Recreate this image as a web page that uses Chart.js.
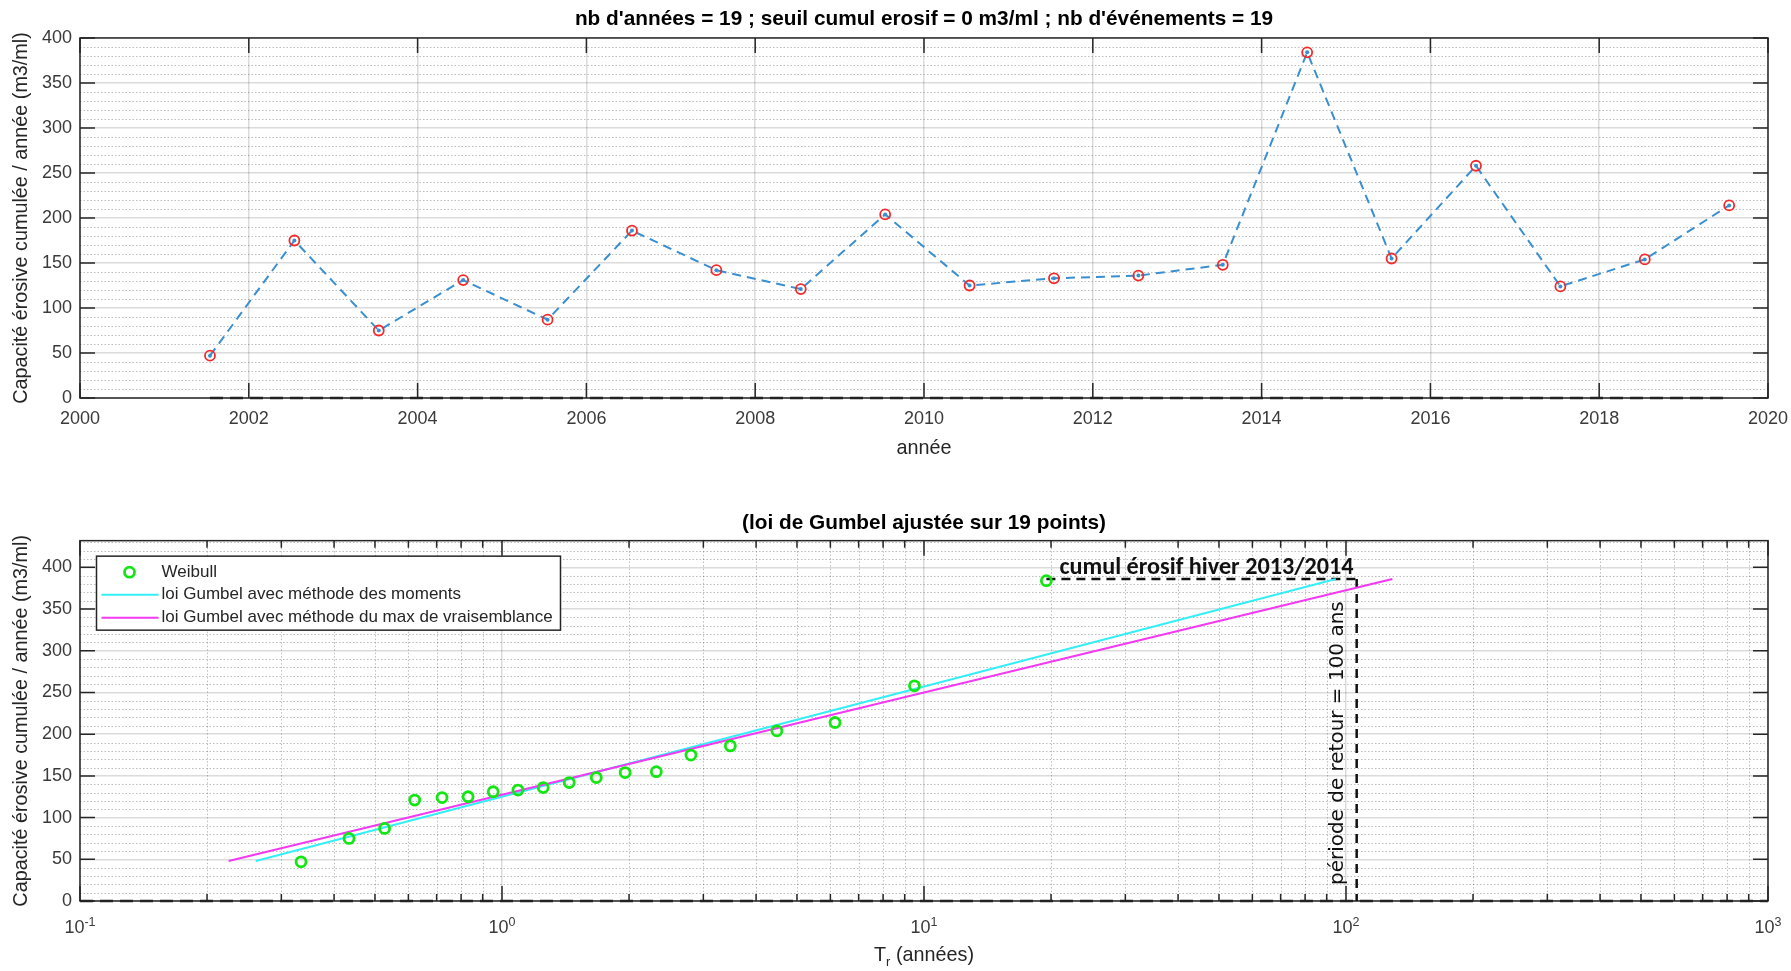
<!DOCTYPE html>
<html>
<head>
<meta charset="utf-8">
<title>Capacité érosive cumulée</title>
<script src="https://cdn.jsdelivr.net/npm/chart.js@4.4.1/dist/chart.umd.min.js"></script>
<style>
  html, body { margin: 0; padding: 0; background: #fff; overflow: hidden; }
  #page { position: relative; width: 1791px; height: 971px; }
  .panel { position: absolute; left: 0; width: 1791px; }
</style>
</head>
<body>
<div id="page">
  <div class="panel" style="top:0;height:480px"><canvas id="chartAnnees"></canvas></div>
  <div class="panel" style="top:480px;height:491px"><canvas id="chartGumbel"></canvas></div>
</div>
<script>
// ===== DATA =====

// haut : cumul érosif par année
const anneesX = [2001.54, 2002.54, 2003.54, 2004.54, 2005.54, 2006.54, 2007.54, 2008.54, 2009.54, 2010.54,
                 2011.54, 2012.54, 2013.54, 2014.54, 2015.54, 2016.54, 2017.54, 2018.54, 2019.54];
const cumulAnnuel = [47, 175, 75, 131, 87, 186, 142, 121, 204, 125, 133, 136, 148, 384, 155, 258, 124, 154, 214];
const seuilCumul = 0;
const anneeTicks = [2000, 2002, 2004, 2006, 2008, 2010, 2012, 2014, 2016, 2018, 2020];
const valeurTicks = [0, 50, 100, 150, 200, 250, 300, 350, 400];

// bas : loi de Gumbel
const weibullTr = [0.334, 0.434, 0.527, 0.621, 0.721, 0.831, 0.953, 1.091, 1.252, 1.443,
                   1.673, 1.958, 2.321, 2.804, 3.476, 4.481, 6.153, 9.491, 19.496];
const weibullCumul = [47, 75, 87, 121, 124, 125, 131, 133, 136, 142, 148, 154, 155, 175, 186, 204, 214, 258, 384];
const momentsTr = [0.261, 94.6];
const momentsCumul = [48, 386];
const maxVraisTr = [0.225, 128.8];
const maxVraisCumul = [48, 386];
const hiverTr = [19.5, 106];
const hiverCumul = 386;
const retourTr = 106;
const trTicks = [0.1, 1, 10, 100, 1000];
const trExposants = ['-1', '0', '1', '2', '3'];

// ===== STYLE =====
const FONT = '"Liberation Sans", Arial, Helvetica, sans-serif';
const AXIS_COLOR = '#262626';
const TEXT_COLOR = '#3a3a3a';
const GRID_MAJOR = 'rgba(0,0,0,0.14)';
const GRID_MINOR = 'rgba(0,0,0,0.26)';
const BLUE = '#3a8fd0';
const Y_LABEL = 'Capacité érosive cumulée / année (m3/ml)';

Chart.defaults.font.family = FONT;
Chart.defaults.animation = false;

const pts = (xs, ys) => xs.map((x, i) => ({ x, y: ys[i] }));

// minor grid positions
const yMinor = [];
for (let v = 10; v < 440; v += 10) if (v % 50) yMinor.push(v);
const trMinor = [];
[0.1, 1, 10, 100].forEach(d => { for (let k = 2; k <= 9; k++) trMinor.push(d * k); });

// MATLAB-like box, inward ticks, dotted minor grid
const matlabAxes = {
  id: 'matlabAxes',
  beforeDatasetsDraw(chart, args, opts) {
    const { ctx, chartArea: a, scales: { x, y } } = chart;
    const L = a.left, R = a.right, T = a.top, B = a.bottom;
    ctx.save();
    ctx.strokeStyle = GRID_MINOR;
    ctx.lineWidth = 1;
    ctx.setLineDash([1.5, 2]);
    ctx.beginPath();
    (opts.yMinor || []).forEach(v => {
      if (v > y.max) return;
      const p = Math.round(y.getPixelForValue(v)) + 0.5;
      ctx.moveTo(L, p); ctx.lineTo(R, p);
    });
    (opts.xMinor || []).forEach(v => {
      const p = Math.round(x.getPixelForValue(v)) + 0.5;
      ctx.moveTo(p, T); ctx.lineTo(p, B);
    });
    ctx.stroke();
    ctx.setLineDash([]);

    ctx.strokeStyle = AXIS_COLOR;
    ctx.lineWidth = 1.5;
    ctx.strokeRect(L, T, R - L, B - T);
    ctx.beginPath();
    x.ticks.forEach(t => {
      const p = x.getPixelForValue(t.value);
      ctx.moveTo(p, B); ctx.lineTo(p, B - 15);
      ctx.moveTo(p, T); ctx.lineTo(p, T + 15);
    });
    y.ticks.forEach(t => {
      const p = y.getPixelForValue(t.value);
      ctx.moveTo(L, p); ctx.lineTo(L + 15, p);
      ctx.moveTo(R, p); ctx.lineTo(R - 15, p);
    });
    if (opts.xMinorTicks) {
      opts.xMinor.forEach(v => {
        const p = x.getPixelForValue(v);
        ctx.moveTo(p, B); ctx.lineTo(p, B - 7);
        ctx.moveTo(p, T); ctx.lineTo(p, T + 7);
      });
    }
    ctx.stroke();
    ctx.restore();
  }
};

function yScale(max) {
  return {
    type: 'linear', min: 0, max,
    afterBuildTicks: s => { s.ticks = valeurTicks.map(v => ({ value: v })); },
    afterFit: s => { s.width = 80; s.paddingTop = 0; s.paddingBottom = 0; },
    grid: { color: GRID_MAJOR, lineWidth: 1.5, drawTicks: false },
    border: { display: false },
    ticks: { color: TEXT_COLOR, font: { size: 18 }, padding: 8, callback: v => String(v) },
    title: { display: true, text: Y_LABEL, color: AXIS_COLOR, font: { size: 19.8 }, padding: { top: 10, bottom: 0 } }
  };
}

// ===== HAUT =====
new Chart(document.getElementById('chartAnnees'), {
  type: 'scatter',
  plugins: [matlabAxes],
  data: {
    datasets: [
      {
        label: 'seuil',
        data: [{ x: anneesX[0], y: seuilCumul }, { x: anneesX[anneesX.length - 1], y: seuilCumul }],
        showLine: true, borderColor: '#222', borderWidth: 2.5, borderDash: [13, 7],
        pointRadius: 0, clip: false, order: 0
      },
      {
        label: 'cumul (o)',
        data: pts(anneesX, cumulAnnuel),
        showLine: false, pointRadius: 5, pointBorderWidth: 1.8,
        pointBorderColor: '#f42a2a', pointBackgroundColor: 'rgba(0,0,0,0)', order: 1
      },
      {
        label: 'cumul',
        data: pts(anneesX, cumulAnnuel),
        showLine: true, borderColor: BLUE, borderWidth: 2, borderDash: [9, 6],
        pointRadius: 2, pointBackgroundColor: BLUE, pointBorderWidth: 0, order: 2
      }
    ]
  },
  options: {
    responsive: true,
    maintainAspectRatio: false,
    devicePixelRatio: 1,
    events: [],
    layout: { padding: { left: 0, right: 23, top: 0, bottom: 0 } },
    plugins: {
      legend: { display: false },
      tooltip: { enabled: false },
      title: {
        display: true, fullSize: false,
        text: "nb d'années = 19 ; seuil cumul erosif = 0 m3/ml ; nb d'événements = 19",
        color: '#000', font: { size: 20.8, weight: 'bold' }, padding: { top: 7, bottom: 6 }
      },
      matlabAxes: { yMinor, xMinor: [] }
    },
    scales: {
      x: {
        type: 'linear', min: 2000, max: 2020,
        afterBuildTicks: s => { s.ticks = anneeTicks.map(v => ({ value: v })); },
        afterFit: s => { s.height = 82; s.paddingLeft = 0; s.paddingRight = 0; },
        grid: { color: GRID_MAJOR, lineWidth: 1.5, drawTicks: false },
        border: { display: false },
        ticks: { color: TEXT_COLOR, font: { size: 18 }, padding: 10, maxRotation: 0, autoSkip: false, callback: v => String(v) },
        title: { display: true, text: 'année', color: AXIS_COLOR, font: { size: 19.8 }, padding: { top: 0, bottom: 20 } }
      },
      y: yScale(400)
    }
  }
});

// ===== BAS =====
const legendBox = {
  id: 'legendBox',
  afterDatasetsDraw(chart) {
    const { ctx, chartArea: a } = chart;
    const x0 = a.left + 16.5, y0 = a.top + 15.5, w = 464, h = 74;
    const rows = [16, 38.5, 61.5];
    ctx.save();
    ctx.fillStyle = '#fff';
    ctx.fillRect(x0, y0, w, h);
    ctx.strokeStyle = AXIS_COLOR;
    ctx.lineWidth = 1.5;
    ctx.strokeRect(x0, y0, w, h);
    ctx.font = '17px ' + FONT;
    ctx.textBaseline = 'middle';
    ctx.textAlign = 'left';
    [0, 1, 2].forEach((di, i) => {
      const ds = chart.data.datasets[di];
      const cy = y0 + rows[i];
      if (ds.showLine === false) {
        ctx.beginPath();
        ctx.arc(x0 + 33, cy, ds.pointRadius, 0, Math.PI * 2);
        ctx.strokeStyle = ds.pointBorderColor;
        ctx.lineWidth = ds.pointBorderWidth;
        ctx.stroke();
      } else {
        ctx.beginPath();
        ctx.moveTo(x0 + 5, cy); ctx.lineTo(x0 + 62, cy);
        ctx.strokeStyle = ds.borderColor;
        ctx.lineWidth = ds.borderWidth;
        ctx.stroke();
      }
      ctx.fillStyle = AXIS_COLOR;
      ctx.fillText(ds.label, x0 + 65, cy);
    });
    ctx.restore();
  }
};

const annotations = {
  id: 'annotations',
  afterDatasetsDraw(chart) {
    const { ctx, scales: { x, y } } = chart;
    const x0 = x.getPixelForValue(hiverTr[0]);
    const x1 = x.getPixelForValue(hiverTr[1]);
    const yl = y.getPixelForValue(hiverCumul);
    const y0 = y.getPixelForValue(0);
    ctx.save();
    ctx.fillStyle = '#111';
    ctx.textAlign = 'left';

    const t1 = 'cumul érosif hiver 2013/2014';
    const f1 = s => 'bold ' + s + 'px Carlito, Lato, "Open Sans", sans-serif';
    ctx.font = f1(22);
    const s1 = 22 * (x1 - x0 - 16) / ctx.measureText(t1).width;
    ctx.font = f1(s1);
    ctx.textBaseline = 'alphabetic';
    ctx.fillText(t1, x0 + 13, yl - 5);

    const t2 = 'période de retour = 100 ans';
    const f2 = s => s + 'px "DejaVu Sans", Verdana, sans-serif';
    ctx.font = f2(16);
    const len = (y0 - 16) - (yl + 22);
    const s2 = 16 * len / ctx.measureText(t2).width;
    ctx.font = f2(s2);
    ctx.translate(x1 - 19, y0 - 16);
    ctx.rotate(-Math.PI / 2);
    ctx.textBaseline = 'middle';
    ctx.fillText(t2, 0, 0);
    ctx.restore();
  }
};

const trAxisText = {
  id: 'trAxisText',
  afterDraw(chart) {
    const { ctx, chartArea: a, scales: { x } } = chart;
    ctx.save();
    ctx.fillStyle = TEXT_COLOR;
    ctx.textAlign = 'left';
    ctx.textBaseline = 'alphabetic';
    trTicks.forEach((v, i) => {
      ctx.font = '18px ' + FONT;
      const wb = ctx.measureText('10').width;
      ctx.font = '12.5px ' + FONT;
      const we = ctx.measureText(trExposants[i]).width;
      const px = x.getPixelForValue(v) - (wb + we) / 2;
      ctx.font = '18px ' + FONT;
      ctx.fillText('10', px, a.bottom + 32);
      ctx.font = '12.5px ' + FONT;
      ctx.fillText(trExposants[i], px + wb, a.bottom + 25);
    });

    ctx.fillStyle = AXIS_COLOR;
    const by = a.bottom + 60;
    ctx.font = '19.8px ' + FONT;
    const wT = ctx.measureText('T').width;
    const wRest = ctx.measureText(' (années)').width;
    ctx.font = '13px ' + FONT;
    const wr = ctx.measureText('r').width;
    let sx = (a.left + a.right) / 2 - (wT + wr + wRest) / 2;
    ctx.font = '19.8px ' + FONT;
    ctx.fillText('T', sx, by);
    ctx.font = '13px ' + FONT;
    ctx.fillText('r', sx + wT, by + 5);
    ctx.font = '19.8px ' + FONT;
    ctx.fillText(' (années)', sx + wT + wr, by);
    ctx.restore();
  }
};

new Chart(document.getElementById('chartGumbel'), {
  type: 'scatter',
  plugins: [matlabAxes, legendBox, annotations, trAxisText],
  data: {
    datasets: [
      {
        label: 'Weibull',
        data: pts(weibullTr, weibullCumul),
        showLine: false, pointRadius: 5, pointBorderWidth: 2.8,
        pointBorderColor: '#14e614', pointBackgroundColor: 'rgba(0,0,0,0)', order: 0
      },
      {
        label: 'loi Gumbel avec méthode des moments',
        data: pts(momentsTr, momentsCumul),
        showLine: true, borderColor: '#35eef6', borderWidth: 2, pointRadius: 0, order: 2
      },
      {
        label: 'loi Gumbel avec méthode du max de vraisemblance',
        data: pts(maxVraisTr, maxVraisCumul),
        showLine: true, borderColor: '#f23af2', borderWidth: 2, pointRadius: 0, order: 1
      },
      {
        label: 'hiver 2013/2014',
        data: hiverTr.map(t => ({ x: t, y: hiverCumul })),
        showLine: true, borderColor: '#111', borderWidth: 2.5, borderDash: [9, 6],
        pointRadius: 0, clip: false, order: 3
      },
      {
        label: 'période de retour',
        data: [{ x: retourTr, y: hiverCumul }, { x: retourTr, y: 0 }],
        showLine: true, borderColor: '#111', borderWidth: 2.5, borderDash: [9, 6],
        pointRadius: 0, clip: false, order: 3
      },
      {
        label: 'seuil',
        data: [{ x: trTicks[0], y: seuilCumul }, { x: trTicks[trTicks.length - 1], y: seuilCumul }],
        showLine: true, borderColor: '#222', borderWidth: 2.5, borderDash: [13, 7],
        pointRadius: 0, clip: false, order: 4
      }
    ]
  },
  options: {
    responsive: true,
    maintainAspectRatio: false,
    devicePixelRatio: 1,
    events: [],
    layout: { padding: { left: 0, right: 23, top: 0, bottom: 0 } },
    plugins: {
      legend: { display: false },
      tooltip: { enabled: false },
      title: {
        display: true, fullSize: false,
        text: '(loi de Gumbel ajustée sur 19 points)',
        color: '#000', font: { size: 20.8, weight: 'bold' }, padding: { top: 30.5, bottom: 5.2 }
      },
      matlabAxes: { yMinor, xMinor: trMinor, xMinorTicks: true }
    },
    scales: {
      x: {
        type: 'logarithmic', min: 0.1, max: 1000,
        afterBuildTicks: s => { s.ticks = trTicks.map(v => ({ value: v, major: true })); },
        afterFit: s => { s.height = 70; s.paddingLeft = 0; s.paddingRight = 0; },
        grid: { color: GRID_MAJOR, lineWidth: 1.5, drawTicks: false },
        border: { display: false },
        ticks: { display: false },
        title: { display: false }
      },
      y: yScale(432)
    }
  }
});
</script>
</body>
</html>
